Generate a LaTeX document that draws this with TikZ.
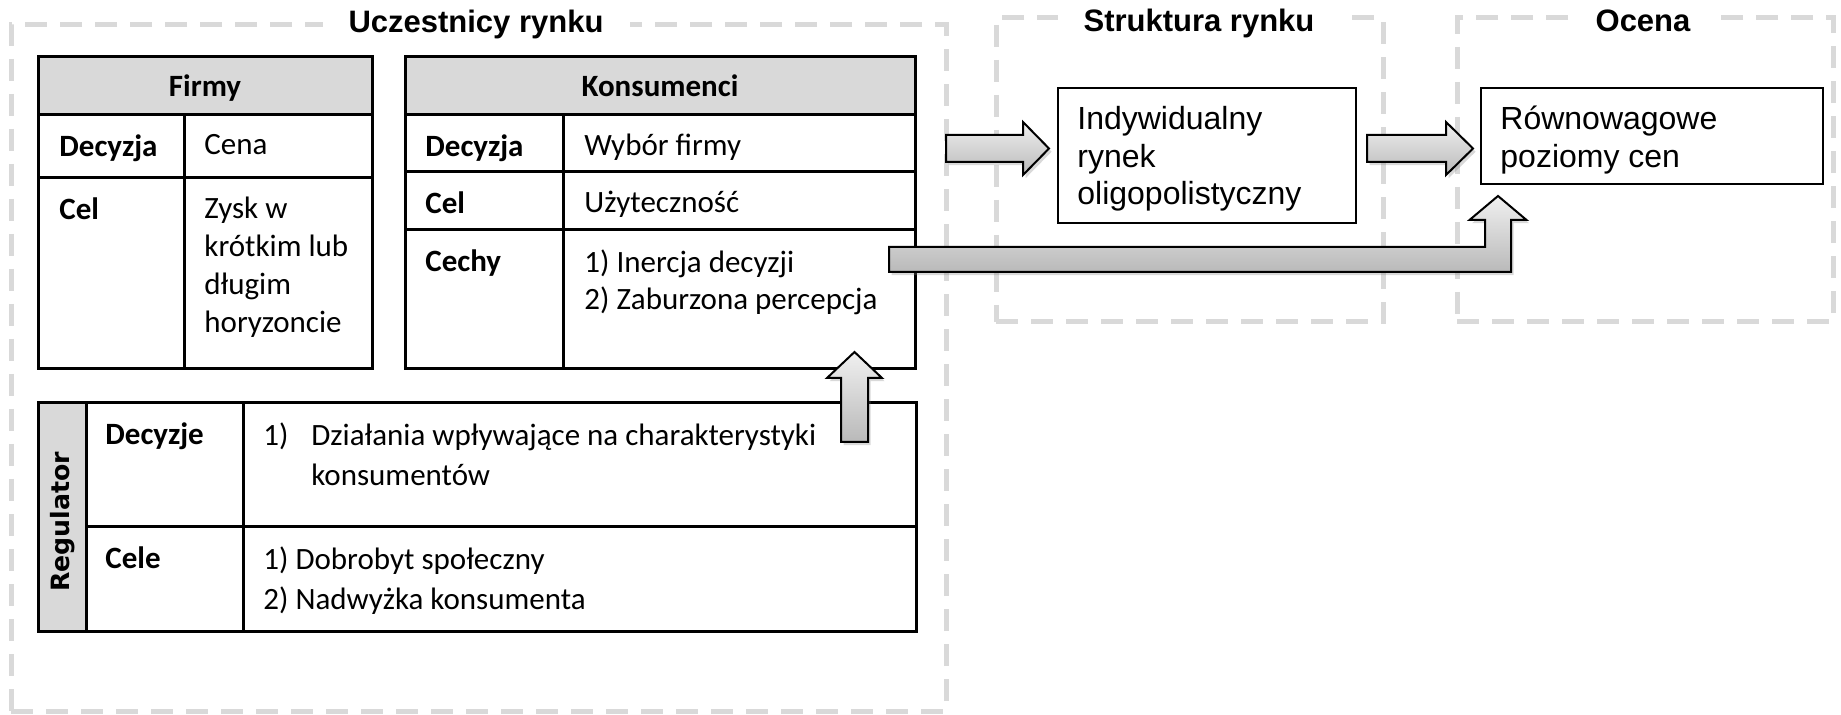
\documentclass[tikz,border=0pt]{standalone}
\usepackage{fontspec}
\setmainfont{Carlito}
\newfontfamily\arialfont{Liberation Sans}
\newfontfamily\verdanafont{DejaVu Sans}
\usetikzlibrary{positioning,calc,shadows}

\definecolor{framecol}{RGB}{217,217,217}
\definecolor{headcol}{RGB}{217,217,217}
\definecolor{arrowtop}{RGB}{240,240,240}
\definecolor{arrowbot}{RGB}{185,185,185}

\tikzset{
	frame/.style={draw=framecol, line width=2.5pt, dash pattern=on 11pt off 6.5pt, inner sep=0pt, outer sep=0pt},
	frametitle/.style={anchor=base, fill=white, inner xsep=13pt, inner ysep=2pt, font=\arialfont\bfseries\fontsize{15.5}{18}\selectfont},
	tabline/.style={line width=1.5pt},
	headtxt/.style={anchor=base, inner sep=0pt, font=\bfseries\fontsize{15.5}{18.85}\selectfont},
	labtxt/.style={anchor=north west, inner sep=0pt, align=left, font=\bfseries\fontsize{15.5}{18.85}\selectfont},
	celltxt/.style={anchor=north west, inner sep=0pt, align=left, font=\fontsize{15.5}{18.85}\selectfont},
	regtxt/.style={anchor=north west, inner sep=0pt, align=left, font=\fontsize{15.5}{20}\selectfont},
	resbox/.style={draw, line width=1.2pt, inner sep=0pt, outer sep=0pt},
	restxt/.style={inner sep=0pt, align=left, font=\arialfont\fontsize{16}{18.75}\selectfont},
	blockarr/.style={draw=black, line width=1pt, line join=miter, top color=arrowtop, bottom color=arrowbot,
			drop shadow={shadow xshift=1.3pt, shadow yshift=-1.6pt, opacity=0.3}}
}

\begin{document}
\begin{tikzpicture}[x=0.5pt, y=-0.5pt]

	\useasboundingbox (0,0) rectangle (1841,715);

	% =============================================
	%  DASHED FRAMES
	% =============================================

	\node[frame, minimum width=467.5pt, minimum height=343pt] (ucz) at (478.5,368) {};
	\node[frame, minimum width=193.5pt, minimum height=152pt] (str) at (1189.5,170) {};
	\node[frame, minimum width=188pt, minimum height=152pt] (oc) at (1645,170) {};

	\node[frametitle] (uczT) at (476,33) {Uczestnicy rynku};
	\node[frametitle] (strT) at (1199,32) {Struktura rynku};
	\node[frametitle] (ocT) at (1643,32) {Ocena};

	% =============================================
	%  FIRMY
	% =============================================

	\fill[headcol] (38.6,57) rectangle (372,115);
	\draw[tabline] (38.6,57) rectangle (372,369);
	\draw[tabline] (38.6,115) -- (372,115) (38.6,178) -- (372,178) (184,115) -- (184,369);

	\node[headtxt] (firmyH) at (205,97) {Firmy};
	\node[labtxt] (firmyDec) at (59,134) {Decyzja};
	\node[celltxt] (firmyCena) at (204,134) {Cena};
	\node[labtxt] (firmyCel) at (59,197) {Cel};
	\node[celltxt] (firmyZysk) at (204,197) {Zysk w\\krótkim lub\\długim\\horyzoncie};

	% =============================================
	%  KONSUMENCI
	% =============================================

	\fill[headcol] (405,57) rectangle (915,115);
	\draw[tabline] (405,57) rectangle (915,369);
	\draw[tabline] (405,115) -- (915,115) (405,172) -- (915,172) (405,230) -- (915,230) (563,115) -- (563,369);

	\node[headtxt] (konsH) at (660,97) {Konsumenci};
	\node[labtxt] (konsDec) at (425,134) {Decyzja};
	\node[celltxt] (konsWyb) at (584,134) {Wybór firmy};
	\node[labtxt] (konsCel) at (425,191) {Cel};
	\node[celltxt] (konsUzy) at (584,191) {Użyteczność};
	\node[labtxt] (konsCechy) at (425,249) {Cechy};
	\node[celltxt] (konsIner) at (584,249) {1) Inercja decyzji\\2) Zaburzona percepcja};

	% =============================================
	%  REGULATOR
	% =============================================

	\fill[headcol] (38.6,403) rectangle (86,631);
	\draw[tabline] (38.6,403) rectangle (916,631);
	\draw[tabline] (86,403) -- (86,631) (86,527) -- (916,527) (243,403) -- (243,631);

	\node[rotate=90, inner sep=0pt, font=\verdanafont\bfseries\fontsize{12.6}{15}\selectfont] (regL) at (62.5,522) {Regulator};
	\node[labtxt] (regDec) at (105,422) {Decyzje};
	\node[regtxt] (regDzial) at (263,422)
	{\makebox[24pt][l]{1)}Działania wpływające na charakterystyki\\\hspace*{24pt}konsumentów};
	\node[labtxt] (regCele) at (105,546) {Cele};
	\node[regtxt] (regDobr) at (263,546) {1) Dobrobyt społeczny\\2) Nadwyżka konsumenta};

	% =============================================
	%  STRUKTURA / OCENA BOXES
	% =============================================

	\node[resbox, minimum width=149pt, minimum height=67.5pt] (rynek) at (1207,155.5) {};
	\node[restxt, below right=9pt and 9.5pt of rynek.north west] (rynekT)
	{Indywidualny\\rynek\\oligopolistyczny};

	\node[resbox, minimum width=171pt, minimum height=48pt] (ceny) at (1652,136) {};
	\node[restxt, below right=9pt and 9.5pt of ceny.north west] (cenyT)
	{Równowagowe\\poziomy cen};

	% =============================================
	%  BLOCK ARROWS
	% =============================================

	% Uczestnicy -> Struktura
	\coordinate (a1s) at (ucz.east |- 0,148.5);
	\coordinate (a1t) at ($(rynek.west |- a1s)+(-9,0)$);
	\draw[blockarr] ($(a1s)+(0,-13.5)$) -- ($(a1t)+(-26,-13.5)$) -- ($(a1t)+(-26,-26.5)$)
	-- (a1t) -- ($(a1t)+(-26,26.5)$) -- ($(a1t)+(-26,13.5)$) -- ($(a1s)+(0,13.5)$) -- cycle;

	% Struktura -> Ocena
	\coordinate (a2s) at ($(rynek.east |- a1s)+(11,0)$);
	\coordinate (a2t) at ($(ceny.west |- a1s)+(-8,0)$);
	\draw[blockarr] ($(a2s)+(0,-13.5)$) -- ($(a2t)+(-27,-13.5)$) -- ($(a2t)+(-27,-26.5)$)
	-- (a2t) -- ($(a2t)+(-27,26.5)$) -- ($(a2t)+(-27,13.5)$) -- ($(a2s)+(0,13.5)$) -- cycle;

	% Regulator -> Konsumenci
	\coordinate (us) at (854.5,442);
	\coordinate (ut) at (854.5,352);
	\draw[blockarr] ($(us)+(-13.5,0)$) -- ($(ut)+(-13.5,26)$) -- ($(ut)+(-27.5,26)$)
	-- (ut) -- ($(ut)+(27.5,26)$) -- ($(ut)+(13.5,26)$) -- ($(us)+(13.5,0)$) -- cycle;

	% Cechy -> Ocena
	\coordinate (bs) at (889,259.5);
	\coordinate (bc) at (1498,259.5);
	\coordinate (bt) at ($(ceny.south -| bc)+(0,12)$);
	\draw[blockarr] ($(bs)+(0,-12.5)$) -- ($(bc)+(-13,-12.5)$) -- ($(bt)+(-13,24)$) -- ($(bt)+(-28.5,24)$)
	-- (bt) -- ($(bt)+(28.5,24)$) -- ($(bt)+(13,24)$) -- ($(bc)+(13,12.5)$) -- ($(bs)+(0,12.5)$) -- cycle;

\end{tikzpicture}
\end{document}
